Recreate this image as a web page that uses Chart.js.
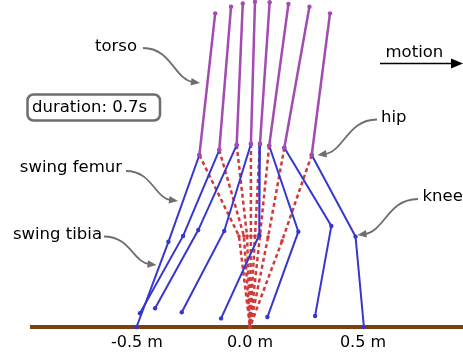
<!DOCTYPE html>
<html>
<head>
<meta charset="utf-8">
<script src="https://cdn.jsdelivr.net/npm/chart.js@4/dist/chart.umd.min.js"></script>
<style>
  body { margin: 0; background: #fff; }
</style>
</head>
<body>
<canvas id="chart" width="463" height="356"></canvas>
<script>
// positions in metres, one entry per frame (8 frames)
const xTicks = [-0.5, 0, 0.5];

const torsoTopX = [-0.154, -0.084, -0.032, 0.022, 0.087, 0.170, 0.263, 0.354];
const torsoTopY = [1.388, 1.417, 1.432, 1.439, 1.437, 1.429, 1.417, 1.388];

const hipX = [-0.224, -0.136, -0.059, 0.004, 0.044, 0.085, 0.152, 0.273];
const hipY = [0.761, 0.783, 0.805, 0.810, 0.810, 0.802, 0.793, 0.761];

const stanceKneeX = [-0.049, -0.027, -0.013, 0.004, 0.022, 0.044, 0.080, 0.142];
const stanceKneeY = [0.403, 0.403, 0.403, 0.403, 0.403, 0.403, 0.398, 0.381];
const stanceFootX = [0, 0, 0, 0, 0, 0, 0, 0];
const stanceFootY = [0, 0, 0, 0, 0, 0, 0, 0];

const swingKneeX = [-0.361, -0.296, -0.229, -0.114, 0.041, 0.214, 0.360, 0.467];
const swingKneeY = [0.377, 0.403, 0.429, 0.425, 0.407, 0.422, 0.447, 0.400];
const swingFootX = [-0.502, -0.487, -0.420, -0.302, -0.128, 0.077, 0.288, 0.504];
const swingFootY = [0, 0.061, 0.083, 0.065, 0.038, 0.044, 0.049, 0];

const xMin = -0.9735, xMax = 0.9425;
const yMin = 0, yMax = 1.447;
const groundY = 0;

const purple = '#a24bb0';
const blue = '#3737cf';
const red = '#cf3a3a';
const brown = '#7b4210';

const datasets = [];

datasets.push({
  data: [{x: xMin, y: groundY}, {x: xMax, y: groundY}],
  borderColor: brown, borderWidth: 4, pointRadius: 0, order: 4, clip: false
});

for (let i = 0; i < hipX.length; i++) {
  datasets.push({
    data: [{x: hipX[i], y: hipY[i]}, {x: stanceKneeX[i], y: stanceKneeY[i]}, {x: stanceFootX[i], y: stanceFootY[i]}],
    borderColor: red, backgroundColor: red, borderWidth: 2.5, borderDash: [4, 3],
    pointRadius: 1.8, pointBorderWidth: 0, order: 3, clip: false
  });
  datasets.push({
    data: [{x: hipX[i], y: hipY[i]}, {x: swingKneeX[i], y: swingKneeY[i]}, {x: swingFootX[i], y: swingFootY[i]}],
    borderColor: blue, backgroundColor: blue, borderWidth: 2,
    pointRadius: 2.2, pointBorderWidth: 0, order: 2, clip: false
  });
  datasets.push({
    data: [{x: hipX[i], y: hipY[i]}, {x: torsoTopX[i], y: torsoTopY[i]}],
    borderColor: purple, backgroundColor: purple, borderWidth: 2.5,
    pointRadius: 2.2, pointBorderWidth: 0, order: 1, clip: false
  });
}

// annotation labels and curved arrows
const notes = [
  {text: 'torso', x: 137, y: 47, align: 'right', arrow: [143, 48, 200, 83]},
  {text: 'swing femur', x: 122, y: 168, align: 'right', arrow: [126, 171, 178, 201]},
  {text: 'swing tibia', x: 102, y: 235, align: 'right', arrow: [104, 236.5, 156.5, 265]},
  {text: 'hip', x: 381, y: 118, align: 'left', arrow: [377, 119.5, 317.5, 155]},
  {text: 'knee', x: 422.5, y: 197, align: 'left', arrow: [418, 199, 357.5, 235]}
];

function head(ctx, x, y, ang, len, w) {
  ctx.beginPath();
  ctx.moveTo(x, y);
  ctx.lineTo(x - len * Math.cos(ang) + w * Math.sin(ang), y - len * Math.sin(ang) - w * Math.cos(ang));
  ctx.lineTo(x - len * Math.cos(ang) - w * Math.sin(ang), y - len * Math.sin(ang) + w * Math.cos(ang));
  ctx.closePath();
  ctx.fill();
}

const notesPlugin = {
  id: 'notes',
  afterDraw(chart) {
    const ctx = chart.ctx;
    ctx.save();
    ctx.font = '16.5px "DejaVu Sans"';
    ctx.textBaseline = 'middle';
    ctx.fillStyle = '#000';
    notes.forEach(n => {
      ctx.textAlign = n.align;
      ctx.fillStyle = '#000';
      ctx.fillText(n.text, n.x, n.y);
      const [sx, sy, ex, ey] = n.arrow;
      const dx = ex - sx;
      const c1x = sx + dx * 0.5, c1y = sy;
      const c2x = ex - dx * 0.45, c2y = ey - (ey - sy) * 0.1;
      const ang = Math.atan2(ey - c2y, ex - c2x);
      const bx = ex - 7 * Math.cos(ang), by = ey - 7 * Math.sin(ang);
      ctx.strokeStyle = '#6e6e6e';
      ctx.fillStyle = '#6e6e6e';
      ctx.lineWidth = 1.8;
      ctx.beginPath();
      ctx.moveTo(sx, sy);
      ctx.bezierCurveTo(c1x, c1y, c2x, c2y, bx, by);
      ctx.stroke();
      head(ctx, ex, ey, ang, 9, 3.8);
    });

    // duration box
    ctx.strokeStyle = '#6e6e6e';
    ctx.lineWidth = 2.5;
    ctx.beginPath();
    ctx.roundRect(27.5, 94.5, 132.5, 26, 6);
    ctx.stroke();
    ctx.fillStyle = '#000';
    ctx.textAlign = 'left';
    ctx.fillText('duration: 0.7s', 32, 107.5);

    // motion arrow
    ctx.fillText('motion', 385.5, 53);
    ctx.strokeStyle = '#000';
    ctx.fillStyle = '#000';
    ctx.lineWidth = 1.6;
    ctx.beginPath();
    ctx.moveTo(380, 63.5);
    ctx.lineTo(452, 63.5);
    ctx.stroke();
    head(ctx, 463, 63.5, 0, 12, 5);
    ctx.restore();
  }
};

new Chart(document.getElementById('chart').getContext('2d'), {
  type: 'scatter',
  data: { datasets: datasets.map(d => Object.assign({showLine: true, tension: 0}, d)) },
  options: {
    responsive: false,
    animation: false,
    layout: { autoPadding: false, padding: { left: 30, right: 0, top: 0, bottom: 0 } },
    plugins: { legend: { display: false }, tooltip: { enabled: false } },
    scales: {
      x: {
        type: 'linear', min: xMin, max: xMax,
        grid: { display: false, drawTicks: false },
        border: { display: false },
        afterBuildTicks: s => { s.ticks = xTicks.map(v => ({value: v})); },
        afterFit: s => { s.height = 29; },
        ticks: {
          padding: 6,
          color: '#000',
          font: { family: 'DejaVu Sans', size: 16 },
          callback: v => v.toFixed(1) + ' m'
        }
      },
      y: { type: 'linear', min: yMin, max: yMax, display: false }
    }
  },
  plugins: [notesPlugin]
});
</script>
</body>
</html>
